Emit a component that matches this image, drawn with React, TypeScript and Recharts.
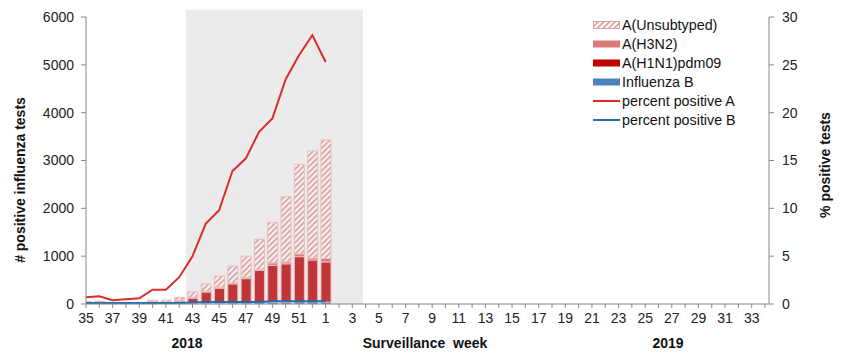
import React from 'react';
import {
  ComposedChart, Bar, Line, XAxis, YAxis, ReferenceArea,
} from 'recharts';

const weeks = [35, 36, 37, 38, 39, 40, 41, 42, 43, 44, 45, 46, 47, 48, 49, 50, 51, 52,
  1, 2, 3, 4, 5, 6, 7, 8, 9, 10, 11, 12, 13, 14, 15, 16, 17, 18, 19, 20, 21, 22, 23, 24,
  25, 26, 27, 28, 29, 30, 31, 32, 33, 34];

const fluB = [15, 15, 10, 10, 10, 10, 10, 10, 15, 20, 20, 25, 25, 30, 30, 35, 45, 45, 40];
const h1n1 = [0, 10, 5, 5, 5, 30, 20, 50, 105, 230, 310, 395, 505, 670, 780, 805, 945, 875, 840];
const h3n2 = [5, 20, 0, 0, 0, 15, 10, 15, 20, 20, 20, 20, 20, 25, 50, 40, 55, 40, 70];
const unsub = [30, 15, 15, 15, 15, 25, 40, 65, 110, 150, 235, 355, 450, 625, 840, 1365, 1875, 2240, 2480];
const pctA = [0.7, 0.8, 0.4, 0.5, 0.6, 1.5, 1.5, 2.8, 5.0, 8.4, 9.8, 13.9, 15.2, 18.0, 19.4, 23.5, 26.0, 28.1, 25.3];
const pctB = [0.1, 0.1, 0.1, 0.1, 0.1, 0.1, 0.1, 0.1, 0.15, 0.2, 0.2, 0.2, 0.2, 0.2, 0.3, 0.3, 0.3, 0.3, 0.3];

const leftTicks = [0, 1000, 2000, 3000, 4000, 5000, 6000];
const rightTicks = [0, 5, 10, 15, 20, 25, 30];

const data = weeks.map((w, i) => ({
  idx: i,
  week: w,
  fluB: fluB[i],
  h1n1: h1n1[i],
  h3n2: h3n2[i],
  unsub: unsub[i],
  pctA: pctA[i],
  pctB: pctB[i],
}));

const xTicks = weeks.map((_, i) => i);

const FONT = '"Liberation Sans", Arial, sans-serif';
const C_UNSUB_STRIPE = '#d9a3a3';
const C_H3N2 = '#df7a7a';
const C_H1N1 = '#c0353a';
const C_B = '#4f81bd';
const C_LINEA = '#dd2a2a';
const C_LINEB = '#1f6fae';
const BAR_STROKE = '#ebbcbc';

const legendItems = [
  { label: 'A(Unsubtyped)', type: 'hatch' },
  { label: 'A(H3N2)', type: 'rect', color: C_H3N2 },
  { label: 'A(H1N1)pdm09', type: 'rect', color: '#c00000' },
  { label: 'Influenza B', type: 'rect', color: C_B },
  { label: 'percent positive A', type: 'line', color: C_LINEA },
  { label: 'percent positive B', type: 'line', color: C_LINEB },
];

const LegendContent = () => (
  <div style={{ position: 'absolute', left: 585, top: 7, fontFamily: FONT, fontSize: 14.3, color: '#111' }}>
    {legendItems.map((it) => (
      <div key={it.label} style={{ display: 'flex', alignItems: 'center', height: 19.1 }}>
        <svg width={29} height={10} style={{ display: 'block' }}>
          <defs>
            <pattern id="legHatch" patternUnits="userSpaceOnUse" width={4} height={4} patternTransform="rotate(45)">
              <rect width={4} height={4} fill="#fff" />
              <rect width={1.8} height={4} fill={C_UNSUB_STRIPE} />
            </pattern>
          </defs>
          {it.type === 'hatch' && (
            <rect x={0.5} y={1.5} width={26} height={7} fill="url(#legHatch)" stroke={C_UNSUB_STRIPE} strokeWidth={1} />
          )}
          {it.type === 'rect' && <rect x={0} y={1.5} width={27} height={7} fill={it.color} />}
          {it.type === 'line' && <line x1={0} x2={27} y1={5} y2={5} stroke={it.color} strokeWidth={2} />}
        </svg>
        <span style={{ whiteSpace: 'nowrap' }}>{it.label}</span>
      </div>
    ))}
  </div>
);

const textBold: React.CSSProperties = {
  position: 'absolute',
  fontFamily: FONT,
  fontWeight: 'bold',
  fontSize: 14,
  color: '#111',
  whiteSpace: 'pre',
  transform: 'translate(-50%, -50%)',
};

export default function App() {
  return (
    <div style={{ position: 'relative', width: 841, height: 346 }}>
      <ComposedChart
        width={841}
        height={346}
        data={data}
        margin={{ top: 9, right: 0, bottom: 20, left: 0 }}
        barGap={0}
      >
        <defs>
          <pattern id="hatch" patternUnits="userSpaceOnUse" width={4} height={4} patternTransform="rotate(45)">
            <rect width={4} height={4} fill="#fbf3f3" />
            <rect width={1.8} height={4} fill={C_UNSUB_STRIPE} />
          </pattern>
        </defs>
        <ReferenceArea
          yAxisId="left"
          x1={7.5}
          x2={20.8}
          y1={0}
          y2={6150}
          ifOverflow="visible"
          fill="#ebebeb"
          fillOpacity={1}
          stroke="none"
        />
        <XAxis
          dataKey="idx"
          type="number"
          domain={[0, 51.3]}
          allowDataOverflow
          ticks={xTicks}
          interval={0}
          tickFormatter={(v: number) => (v % 2 === 0 ? String(weeks[v]) : '')}
          tick={{ fill: '#222', fontSize: 14, fontFamily: FONT }}
          tickSize={4}
          tickMargin={5}
          axisLine={{ stroke: '#888' }}
          tickLine={{ stroke: '#888' }}
          height={30}
        />
        <YAxis
          yAxisId="left"
          orientation="left"
          domain={[0, 6000]}
          ticks={leftTicks}
          interval={0}
          width={78}
          tick={{ fill: '#222', fontSize: 14, fontFamily: FONT }}
          tickSize={5}
          tickMargin={7}
          axisLine={{ stroke: '#888' }}
          tickLine={{ stroke: '#888' }}
        />
        <YAxis
          yAxisId="right"
          orientation="right"
          domain={[0, 30]}
          ticks={rightTicks}
          interval={0}
          width={80}
          tick={{ fill: '#222', fontSize: 14, fontFamily: FONT }}
          tickSize={5}
          tickMargin={8}
          axisLine={{ stroke: '#888' }}
          tickLine={{ stroke: '#888' }}
        />
        <Bar yAxisId="left" dataKey="fluB" stackId="s" fill={C_B} stroke={BAR_STROKE} strokeWidth={0.5} barSize={10} isAnimationActive={false} />
        <Bar yAxisId="left" dataKey="h1n1" stackId="s" fill={C_H1N1} stroke={BAR_STROKE} strokeWidth={1} barSize={10} isAnimationActive={false} />
        <Bar yAxisId="left" dataKey="h3n2" stackId="s" fill={C_H3N2} stroke={BAR_STROKE} strokeWidth={1} barSize={10} isAnimationActive={false} />
        <Bar yAxisId="left" dataKey="unsub" stackId="s" fill="url(#hatch)" stroke={BAR_STROKE} strokeWidth={1} barSize={10} isAnimationActive={false} />
        <Line yAxisId="right" dataKey="pctB" type="linear" stroke={C_LINEB} strokeWidth={2} dot={false} isAnimationActive={false} connectNulls={false} />
        <Line yAxisId="right" dataKey="pctA" type="linear" stroke={C_LINEA} strokeWidth={2} dot={false} isAnimationActive={false} connectNulls={false} />
      </ComposedChart>
      <LegendContent />
      <div style={{ ...textBold, left: 12, top: 172, transform: 'translate(-50%, -50%) rotate(-90deg)' }}>
        # positive influenza tests
      </div>
      <div style={{ ...textBold, left: 817, top: 157, transform: 'translate(-50%, -50%) rotate(-90deg)' }}>
        % positive tests
      </div>
      <div style={{ ...textBold, left: 179, top: 335 }}>2018</div>
      <div style={{ ...textBold, left: 417, top: 335 }}>Surveillance  week</div>
      <div style={{ ...textBold, left: 660, top: 335 }}>2019</div>
    </div>
  );
}
